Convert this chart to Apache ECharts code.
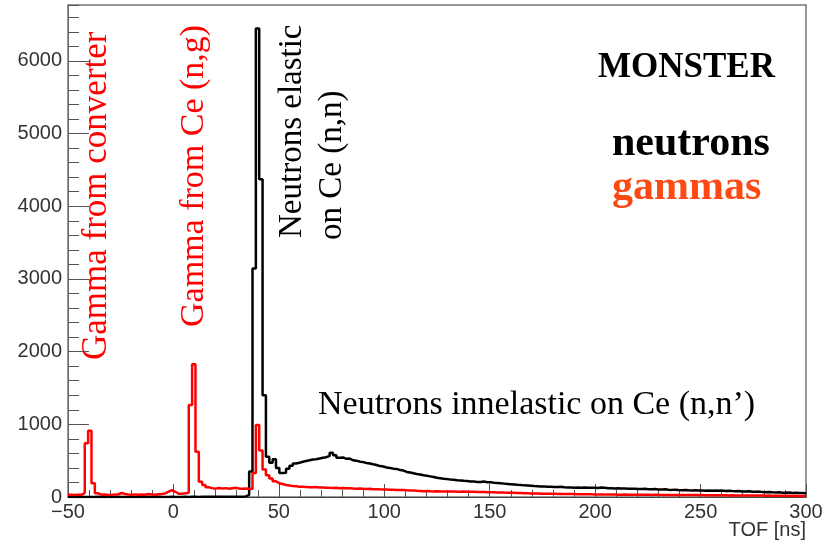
<!DOCTYPE html>
<html>
<head>
<meta charset="utf-8">
<script src="https://cdn.jsdelivr.net/npm/echarts@6/dist/echarts.min.js"></script>
<style>
  html, body { margin: 0; padding: 0; background: #fff; }
  #chart { width: 831px; height: 544px; }
</style>
</head>
<body>
<div id="chart"></div>
<script>
// Time-of-flight histogram range (ns) and binning
const BIN_LO = -50;
const BIN_HI = 300;
const N_BINS = 220;
const Y_MAX = 6769;

// Axis tick values
const xTicks = [-50, 0, 50, 100, 150, 200, 250, 300];
const yTicks = [0, 1000, 2000, 3000, 4000, 5000, 6000];

// Counts per bin: neutrons (black)
const neutronCounts = [
  1, 0, 1, 2, 0, 1, 1, 0, 2, 1,
  0, 1, 1, 0, 2, 1, 0, 1, 2, 1,
  0, 1, 1, 2, 0, 1, 2, 1, 0, 1,
  2, 1, 1, 0, 2, 1, 2, 2, 1, 2,
  2, 3, 2, 2, 3, 2, 3, 3, 2, 3,
  3, 5, 8, 30, 350, 3145, 6447, 4370, 1400, 555,
  470, 520, 400, 330, 335, 390, 430, 460, 470, 485,
  495, 505, 515, 520, 530, 540, 548, 565, 610, 575,
  540, 545, 525, 530, 505, 500, 486, 480, 468, 462,
  450, 441, 425, 420, 406, 400, 390, 386, 370, 364,
  345, 338, 326, 316, 310, 300, 292, 284, 276, 266,
  258, 250, 246, 240, 236, 230, 228, 222, 220, 214,
  212, 208, 206, 212, 204, 202, 196, 194, 188, 184,
  180, 176, 172, 168, 166, 160, 158, 154, 150, 148,
  146, 143, 140, 142, 138, 136, 140, 134, 132, 130,
  128, 130, 126, 132, 128, 126, 128, 124, 130, 126,
  122, 120, 118, 121, 116, 118, 114, 112, 115, 110,
  110, 113, 108, 106, 109, 104, 102, 106, 100, 98,
  101, 96, 94, 97, 92, 90, 93, 88, 90, 87,
  89, 86, 90, 85, 88, 84, 86, 81, 79, 82,
  77, 75, 78, 73, 71, 74, 69, 66, 69, 64,
  62, 65, 60, 58, 61, 56, 58, 54, 56, 52
];

// Counts per bin: gammas (red)
const gammaCounts = [
  30, 28, 32, 30, 55, 740, 910, 190, 50, 32,
  35, 28, 30, 33, 38, 55, 42, 35, 30, 36,
  32, 35, 30, 40, 36, 30, 38, 42, 50, 75,
  95, 72, 45, 45, 50, 58, 1265, 1825, 623, 210,
  165, 135, 122, 115, 125, 118, 122, 114, 120, 126,
  118, 112, 118, 115, 110, 330, 990, 640, 380, 300,
  255, 215, 190, 178, 165, 157, 150, 148, 142, 140,
  138, 135, 133, 136, 130, 132, 128, 126, 125, 127,
  122, 124, 119, 120, 117, 115, 116, 112, 110, 112,
  108, 107, 105, 104, 102, 100, 99, 98, 96, 95,
  92, 90, 88, 85, 83, 80, 82, 78, 77, 79,
  76, 75, 77, 74, 76, 73, 72, 74, 71, 73,
  72, 70, 68, 69, 66, 65, 64, 62, 63, 61,
  60, 58, 57, 56, 54, 52, 51, 49, 48, 47,
  46, 45, 44, 45, 43, 42, 43, 41, 41, 40,
  40, 39, 38, 39, 37, 37, 36, 35, 36, 34,
  33, 33, 34, 32, 32, 33, 31, 31, 32, 30,
  30, 31, 30, 29, 30, 30, 29, 28, 29, 28,
  28, 27, 28, 27, 27, 26, 27, 26, 27, 25,
  25, 24, 25, 23, 24, 23, 22, 23, 22, 21,
  21, 21, 20, 20, 20, 19, 19, 18, 19, 18,
  17, 17, 16, 16, 16, 15, 15, 14, 14, 14
];

// Histogram outline: one point per bin's lower edge, closed at the upper edge
function histogramSteps(counts) {
  const width = (BIN_HI - BIN_LO) / counts.length;
  const pts = counts.map((c, i) => [BIN_LO + i * width, c]);
  pts.push([BIN_HI, counts[counts.length - 1]]);
  return pts;
}

const serif = '"Liberation Serif", "DejaVu Serif", serif';
const sans = '"Liberation Sans", Arial, sans-serif';
const tickLabel = { color: '#333', fontFamily: sans, fontSize: 20 };

function textEl(text, x, y, color, font, align, rotated) {
  return {
    type: 'text', x: x, y: y, rotation: rotated ? Math.PI / 2 : 0,
    style: {
      text: text, fill: color, font: font,
      textAlign: align, textVerticalAlign: 'middle',
      align: align, verticalAlign: 'middle'
    }
  };
}

const chart = echarts.init(document.getElementById('chart'), null, { renderer: 'canvas' });

const option = {
  animation: false,
  backgroundColor: '#fff',
  grid: {
    left: 68, right: 25, top: 5, bottom: 47,
    show: true, borderColor: '#777', borderWidth: 1.5,
    containLabel: false, outerBoundsMode: 'none'
  },
  xAxis: {
    type: 'value', min: BIN_LO, max: BIN_HI, interval: 50,
    axisLine: { onZero: false, lineStyle: { color: '#444', width: 1 } },
    axisTick: { inside: true, length: 13, lineStyle: { color: '#555' } },
    minorTick: { show: true, splitNumber: 5, length: 7, lineStyle: { color: '#555' } },
    splitLine: { show: false },
    axisLabel: Object.assign({}, tickLabel, {
      margin: 5,
      formatter: v => (xTicks.indexOf(v) >= 0 ? String(v).replace('-', '\u2212') : '')
    })
  },
  yAxis: [
    {
      type: 'value', min: 0, max: Y_MAX, interval: 1000, position: 'left',
      axisLine: { show: true, onZero: false, lineStyle: { color: '#666', width: 1 } },
      axisTick: { show: true, inside: true, length: 21, lineStyle: { color: '#555' } },
      splitLine: { show: false },
      axisLabel: Object.assign({}, tickLabel, {
        margin: 6, showMaxLabel: false,
        formatter: v => (yTicks.indexOf(v) >= 0 ? String(v) : '')
      })
    },
    {
      type: 'value', min: 0, max: Y_MAX, interval: 200, position: 'left',
      axisLine: { show: false, onZero: false },
      axisTick: { show: true, inside: true, length: 11, lineStyle: { color: '#555' } },
      splitLine: { show: false },
      axisLabel: { show: false }
    }
  ],
  series: [
    {
      name: 'neutrons', type: 'line', step: 'end', yAxisIndex: 0,
      data: histogramSteps(neutronCounts),
      showSymbol: false, symbol: 'none',
      lineStyle: { color: '#000', width: 2.5 }, z: 2
    },
    {
      name: 'gammas', type: 'line', step: 'end', yAxisIndex: 0,
      data: histogramSteps(gammaCounts),
      showSymbol: false, symbol: 'none',
      lineStyle: { color: '#ff0000', width: 2.5 }, z: 3
    }
  ],
  graphic: [
    textEl('Gamma from converter', 97, 360, '#ff0000', '35px ' + serif, 'left', true),
    textEl('Gamma from Ce (n,g)', 194, 327, '#ff0000', '34px ' + serif, 'left', true),
    textEl('Neutrons elastic', 292, 238, '#000', '33px ' + serif, 'left', true),
    textEl('on Ce (n,n)', 332, 240, '#000', '33px ' + serif, 'left', true),
    textEl('Neutrons innelastic on Ce (n,n\u2019)', 318, 405, '#000', '34px ' + serif, 'left', false),
    textEl('MONSTER', 598, 68, '#000', 'bold 35px ' + serif, 'left', false),
    textEl('neutrons', 612, 144, '#000', 'bold 42px ' + serif, 'left', false),
    textEl('gammas', 612, 188, '#fd4a14', 'bold 42px ' + serif, 'left', false),
    textEl('TOF [ns]', 806, 530, '#333', '20px ' + sans, 'right', false)
  ]
};

chart.setOption(option);
</script>
</body>
</html>
